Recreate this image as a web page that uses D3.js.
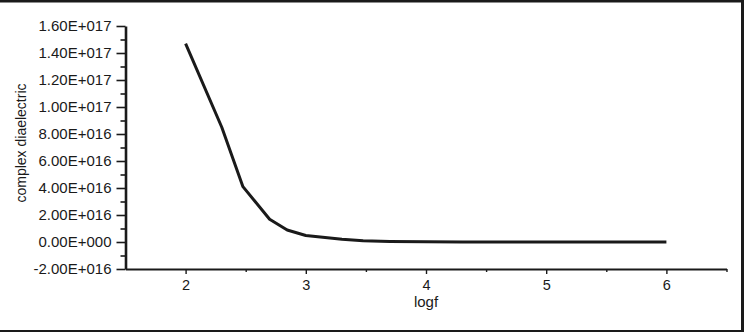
<!DOCTYPE html>
<html><head><meta charset="utf-8">
<script src="https://cdn.jsdelivr.net/npm/d3@7"></script>
<style>
html,body{margin:0;padding:0;background:#fff;}
svg{display:block;font-family:"Liberation Sans",Arial,sans-serif;}
</style></head>
<body><svg id="c" width="744" height="332"></svg>
<script>
// Data
const logf = [2, 2.301, 2.477, 2.699, 2.845, 3, 3.301, 3.477, 3.699, 4, 4.301, 4.699, 5, 5.301, 5.699, 6];
const dielectric = [1.47e17, 8.5e16, 4.1e16, 1.68e16, 8.9e15, 4.8e15, 2.0e15, 1.0e15, 4e14, 1e14, 0, 0, 0, 0, 0, 0];
const yTicks = [-2e16, 0, 2e16, 4e16, 6e16, 8e16, 1e17, 1.2e17, 1.4e17, 1.6e17];
const yTickLabels = ["-2.00E+016","0.00E+000","2.00E+016","4.00E+016","6.00E+016","8.00E+016","1.00E+017","1.20E+017","1.40E+017","1.60E+017"];
const xTicks = [2, 3, 4, 5, 6];
const xTickLabels = ["2","3","4","5","6"];
const xLabel = "logf";
const yLabel = "complex diaelectric";

const svg = d3.select("#c");
// frame
svg.append("rect").attr("x",0).attr("y",0).attr("width",744).attr("height",2.5).attr("fill","#1a1a1a");
svg.append("rect").attr("x",741).attr("y",0).attr("width",3).attr("height",332).attr("fill","#1a1a1a");
svg.append("rect").attr("x",0).attr("y",330).attr("width",744).attr("height",2).attr("fill","#1a1a1a");

const x = d3.scaleLinear().domain([1.5, 6.5]).range([125.5, 726.5]);
const y = d3.scaleLinear().domain([-2e16, 1.6e17]).range([269, 26]);

// y minor ticks
const yMinor = d3.range(-1e16, 1.6e17, 2e16);
svg.append("g").attr("transform","translate(125.5,0)")
  .call(d3.axisLeft(y).tickValues(yMinor).tickFormat("").tickSize(5).tickSizeOuter(0))
  .call(g=>g.select(".domain").remove())
  .call(g=>g.selectAll("line").attr("stroke","#1a1a1a").attr("stroke-width",1.6));
// y major axis
const yAx = svg.append("g").attr("transform","translate(125.5,0)")
  .call(d3.axisLeft(y).tickValues(yTicks).tickFormat((d,i)=>yTickLabels[i]).tickSize(9).tickSizeOuter(0).tickPadding(5));
yAx.select(".domain").attr("stroke","#1a1a1a").attr("stroke-width",2.6);
yAx.selectAll(".tick line").attr("stroke","#1a1a1a").attr("stroke-width",1.6);
yAx.selectAll("text").attr("font-size",15).attr("fill","#1a1a1a").attr("font-family","Liberation Sans, Arial, sans-serif");

// x minor ticks
const xMinor = [2.5, 3.5, 4.5, 5.5, 6.5];
svg.append("g").attr("transform","translate(0,269)")
  .call(d3.axisBottom(x).tickValues(xMinor).tickFormat("").tickSize(3).tickSizeOuter(0))
  .call(g=>g.select(".domain").remove())
  .call(g=>g.selectAll("line").attr("stroke","#1a1a1a").attr("stroke-width",1.4));
const xAx = svg.append("g").attr("transform","translate(0,269)")
  .call(d3.axisBottom(x).tickValues(xTicks).tickFormat((d,i)=>xTickLabels[i]).tickSize(5).tickSizeOuter(0).tickPadding(6));
xAx.select(".domain").attr("stroke","#1a1a1a").attr("stroke-width",2.2);
xAx.selectAll(".tick line").attr("stroke","#1a1a1a").attr("stroke-width",1.4);
xAx.selectAll("text").attr("font-size",14.5).attr("fill","#1a1a1a").attr("font-family","Liberation Sans, Arial, sans-serif");

// labels
svg.append("text").attr("x",426).attr("y",307).attr("text-anchor","middle")
  .attr("font-size",15).attr("fill","#1a1a1a").text(xLabel);
svg.append("text").attr("transform","translate(26,143) rotate(-90)").attr("text-anchor","middle")
  .attr("font-size",14).attr("fill","#1a1a1a").text(yLabel);

// line
const line = d3.line().x((d,i)=>x(logf[i])).y(d=>y(d));
svg.append("path").datum(dielectric).attr("d",line)
  .attr("fill","none").attr("stroke","#1a1a1a").attr("stroke-width",3).attr("stroke-linejoin","round");
</script></body></html>
